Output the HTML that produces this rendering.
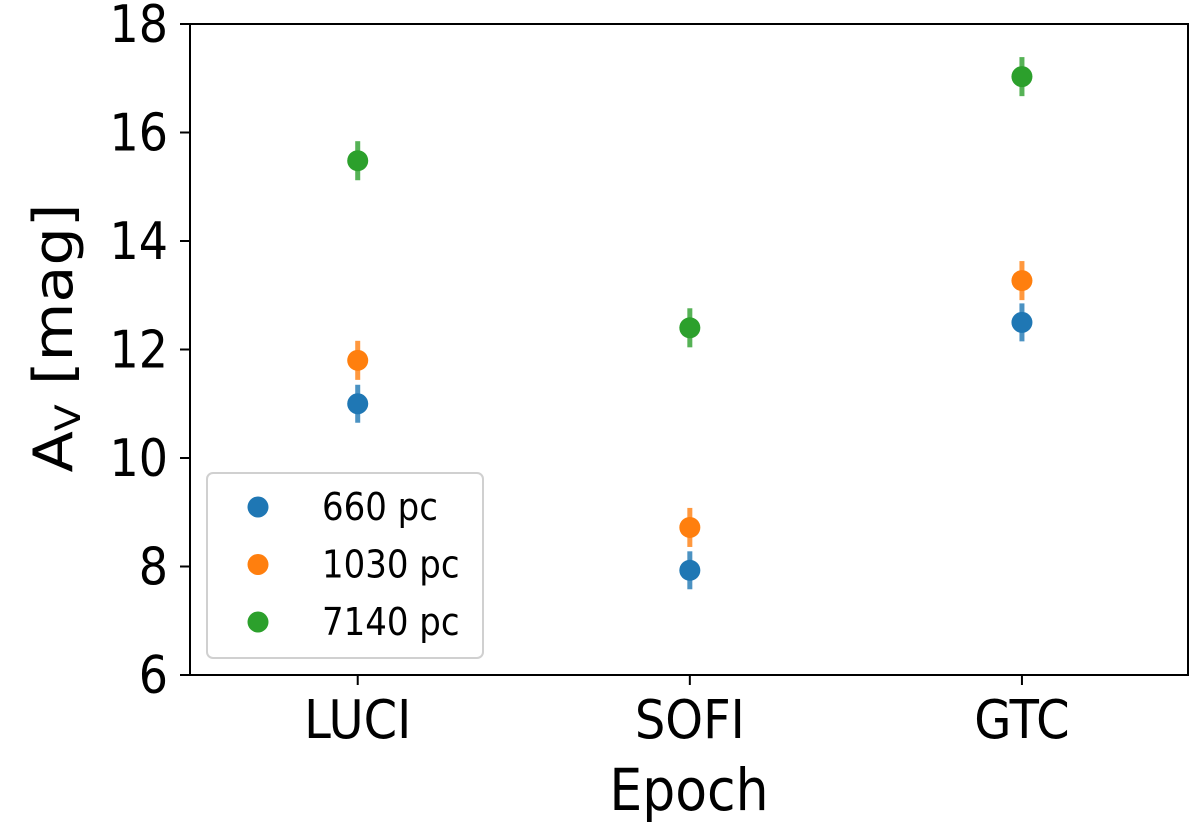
<!DOCTYPE html>
<html><head><meta charset="utf-8"><style>
html,body{margin:0;padding:0;background:#fff;}
svg text{font-family:"DejaVu Sans","Liberation Sans",sans-serif;fill:#000;}
</style></head><body>
<svg id="chart" width="1200" height="825" xmlns="http://www.w3.org/2000/svg">
<g id="plot"></g>
</svg>
<script>
const categories = ["LUCI","SOFI","GTC"];
const seriesNames = ["660 pc","1030 pc","7140 pc"];
const values660 = [11.0, 7.93, 12.5];
const values1030 = [11.8, 8.72, 13.27];
const values7140 = [15.48, 12.4, 17.03];
const errors660 = [0.35, 0.35, 0.35];
const errors1030 = [0.36, 0.36, 0.36];
const errors7140 = [0.36, 0.36, 0.36];
const yTicks = [6,8,10,12,14,16,18];
const colors = ["#1f77b4","#ff7f0e","#2ca02c"];

const L=190, R=1188, T=24, B=675;
const yMin=6, yMax=18, xMin=-0.505, xMax=2.5;
const SY=1.12;
const ys = v => B - (v-yMin)/(yMax-yMin)*(B-T);
const xs = i => L + (i-xMin)/(xMax-xMin)*(R-L);
const NS="http://www.w3.org/2000/svg";
const g=document.getElementById('plot');
function mk(tag,attrs,parent){const e=document.createElementNS(NS,tag);for(const k in attrs)e.setAttribute(k,attrs[k]);(parent||g).appendChild(e);return e;}
function txt(x,y,size,anchor,parent){return mk('text',{x:0,y:0,'text-anchor':anchor,'font-size':size,transform:`translate(${x},${y}) scale(1,${SY})`},parent);}

const frame=mk('rect',{x:L,y:T,width:R-L,height:B-T,fill:'none',stroke:'#000','stroke-width':2});



yTicks.forEach(v=>{
  const y=ys(v);
  const t=mk('line',{x1:L-10,x2:L,y1:y,y2:y,stroke:'#000','stroke-width':2});
  
  
  const lb=txt(L-22,y+18,46,'end');
  lb.textContent=v;
  
  
});
categories.forEach((c,i)=>{
  const x=xs(i);
  const t=mk('line',{x1:x,x2:x,y1:B,y2:B+10,stroke:'#000','stroke-width':2});
  
  
  const lb=txt(x,B+63,48,'middle');
  lb.textContent=c;
  
  
});

const xl=txt((L+R)/2,810,52,'middle');
xl.textContent='Epoch';


const yl=mk('text',{x:0,y:0,'text-anchor':'middle','font-size':54,transform:`translate(72,338) scale(1,${SY}) rotate(-90)`});
yl.innerHTML='A<tspan font-size="35" dy="8">V</tspan><tspan dy="-8"> [mag]</tspan>';



const allVals=[values660,values1030,values7140];
const allErr=[errors660,errors1030,errors7140];
allVals.forEach((vals,s)=>{
  vals.forEach((v,i)=>{
    const x=xs(i);
    const e=mk('line',{x1:x,x2:x,y1:ys(v+allErr[s][i]),y2:ys(v-allErr[s][i]),stroke:colors[s],'stroke-width':5,opacity:0.8});
    
    
    const p=mk('circle',{cx:x,cy:ys(v),r:10.5,fill:colors[s]});
    
    
  });
});

const lg=mk('g',{});


mk('rect',{x:207,y:473,width:276,height:185,rx:6,fill:'#fff',stroke:'#d0d0d0','stroke-width':2},lg);
seriesNames.forEach((n,s)=>{
  const y=507+s*57.5;
  const m=mk('circle',{cx:258,cy:y,r:10.5,fill:colors[s]},lg);
  
  
  const t=txt(322,y+13,34,'start',lg);
  t.textContent=n;
  
  
});
</script>
</body></html>
